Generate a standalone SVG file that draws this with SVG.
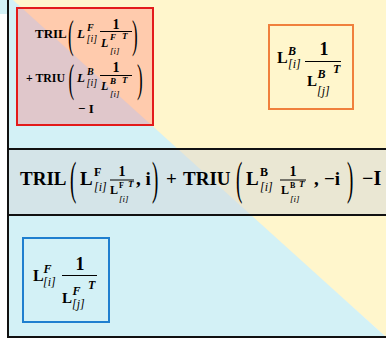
<svg xmlns="http://www.w3.org/2000/svg" width="386" height="347" viewBox="0 0 386 347">
<style>
text{font-family:"Liberation Serif","Times New Roman",serif;fill:#000}
.b{font-weight:bold}
.bi{font-weight:bold;font-style:italic}
.it{font-style:italic}
.par{font-weight:normal}
.fl{stroke:#000;stroke-width:1}
</style>
<rect x="0" y="0" width="386" height="347" fill="#ffffff"/>
<g id="background">
<polygon points="8,0 386,0 386,337" fill="#fff6cc"/>
<polygon points="8,0 13,0 386,337 8,337" fill="#d3f1f6"/>
<rect x="0" y="0" width="8" height="14" fill="#d3f1f6"/>
</g>
<g id="band">
<rect x="8" y="149" width="378" height="66" fill="#d6d7da" fill-opacity="0.5"/>
<line x1="8" y1="149" x2="386" y2="149" stroke="#111" stroke-width="2"/>
<line x1="8" y1="215" x2="386" y2="215" stroke="#111" stroke-width="2"/>
<text class="b" x="20" y="185" font-size="19">TRIL</text>
<text class="par" font-size="19" transform="translate(70,194) scale(1,2.4)">(</text>
<text class="b" x="80" y="185" font-size="19">L</text>
<text class="b" x="94" y="176" font-size="12">F</text>
<text class="it" x="94" y="191" font-size="12">[i]</text>
<text class="b" x="122" y="176" font-size="14" text-anchor="middle">1</text>
<line class="fl" x1="110" y1="180" x2="134" y2="180"/>
<text class="b" x="110" y="194" font-size="12">L</text>
<text class="b" x="119" y="188" font-size="8">F</text>
<text class="bi" x="128" y="187" font-size="9">T</text>
<text class="it" x="119" y="202" font-size="9">[i]</text>
<text class="b" x="136" y="185" font-size="19">, i</text>
<text class="par" font-size="19" transform="translate(152,194) scale(1,2.4)">)</text>
<text class="b" x="166" y="185" font-size="19">+</text>
<text class="b" x="183" y="185" font-size="19">TRIU</text>
<text class="par" font-size="19" transform="translate(236,194) scale(1,2.4)">(</text>
<text class="b" x="246" y="185" font-size="19">L</text>
<text class="b" x="260" y="176" font-size="12">B</text>
<text class="it" x="260" y="191" font-size="12">[i]</text>
<text class="b" x="293" y="176" font-size="14" text-anchor="middle">1</text>
<line class="fl" x1="280" y1="180" x2="306" y2="180"/>
<text class="b" x="281" y="194" font-size="12">L</text>
<text class="b" x="290" y="188" font-size="8">B</text>
<text class="bi" x="299" y="187" font-size="9">T</text>
<text class="it" x="290" y="202" font-size="9">[i]</text>
<text class="b" x="314" y="185" font-size="19">,</text>
<text class="b" x="324" y="185" font-size="19">−i</text>
<text class="par" font-size="19" transform="translate(347,194) scale(1,2.4)">)</text>
<text class="b" x="362" y="185" font-size="20">−I</text>
</g>
<g id="frame">
<line x1="8" y1="0" x2="8" y2="338" stroke="#111" stroke-width="2"/>
<line x1="7" y1="337" x2="386" y2="337" stroke="#111" stroke-width="2"/>
</g>
<g id="node-red">
<rect x="17" y="8" width="136" height="117" fill="#ff6868" fill-opacity="0.3" stroke="#e31b1b" stroke-width="2"/>
<text class="b" x="35" y="38" font-size="13">TRIL</text>
<text class="par" font-size="17" transform="translate(68,48) scale(1,2.3)">(</text>
<text class="bi" x="77" y="38" font-size="13">L</text>
<text class="bi" x="87" y="31" font-size="10">F</text>
<text class="it" x="86.5" y="42" font-size="10">[i]</text>
<text class="b" x="116" y="29" font-size="14" text-anchor="middle">1</text>
<line class="fl" x1="100" y1="31.5" x2="132" y2="31.5"/>
<text class="bi" x="101" y="47" font-size="12">L</text>
<text class="bi" x="110" y="39.5" font-size="9">F</text>
<text class="bi" x="122" y="39" font-size="9">T</text>
<text class="it" x="110" y="54" font-size="9">[i]</text>
<text class="par" font-size="17" transform="translate(132,48) scale(1,2.3)">)</text>
<text class="b" x="26" y="82" font-size="13" textLength="39" lengthAdjust="spacingAndGlyphs">+ TRIU</text>
<text class="par" font-size="17" transform="translate(68.5,92) scale(1,2.3)">(</text>
<text class="bi" x="77" y="82" font-size="13">L</text>
<text class="bi" x="87" y="75" font-size="10">B</text>
<text class="it" x="86.5" y="86" font-size="10">[i]</text>
<text class="b" x="116" y="72" font-size="14" text-anchor="middle">1</text>
<line class="fl" x1="100" y1="75.5" x2="132" y2="75.5"/>
<text class="bi" x="101" y="90" font-size="12">L</text>
<text class="bi" x="110" y="83.5" font-size="9">B</text>
<text class="bi" x="122" y="82.5" font-size="9">T</text>
<text class="it" x="110" y="97" font-size="9">[i]</text>
<text class="par" font-size="17" transform="translate(137,92) scale(1,2.3)">)</text>
<text class="b" x="78" y="113" font-size="13">− I</text>
</g>
<g id="node-orange">
<rect x="269" y="25" width="84" height="84" fill="none" stroke="#f0803c" stroke-width="2"/>
<text class="b" x="277" y="63" font-size="16">L</text>
<text class="bi" x="288" y="55" font-size="12">B</text>
<text class="it" x="288" y="68" font-size="12">[i]</text>
<text class="b" x="324" y="55" font-size="18" text-anchor="middle">1</text>
<line x1="305" y1="61.5" x2="341" y2="61.5" stroke="#000" stroke-width="1.2"/>
<text class="b" x="307" y="86" font-size="15">L</text>
<text class="bi" x="317.5" y="78" font-size="12">B</text>
<text class="bi" x="333" y="73" font-size="12">T</text>
<text class="it" x="317" y="95" font-size="12">[j]</text>
</g>
<g id="node-blue">
<rect x="23" y="238" width="86" height="84" fill="none" stroke="#1f7fcf" stroke-width="2"/>
<text class="b" x="33" y="281" font-size="16">L</text>
<text class="bi" x="43.5" y="273" font-size="12">F</text>
<text class="it" x="43" y="286" font-size="12">[i]</text>
<text class="b" x="80" y="270" font-size="18" text-anchor="middle">1</text>
<line x1="62" y1="275.5" x2="97" y2="275.5" stroke="#000" stroke-width="1.2"/>
<text class="b" x="62" y="303" font-size="15">L</text>
<text class="bi" x="72.5" y="295" font-size="12">F</text>
<text class="bi" x="88" y="289" font-size="12">T</text>
<text class="it" x="72" y="308" font-size="12">[j]</text>
</g>
</svg>
